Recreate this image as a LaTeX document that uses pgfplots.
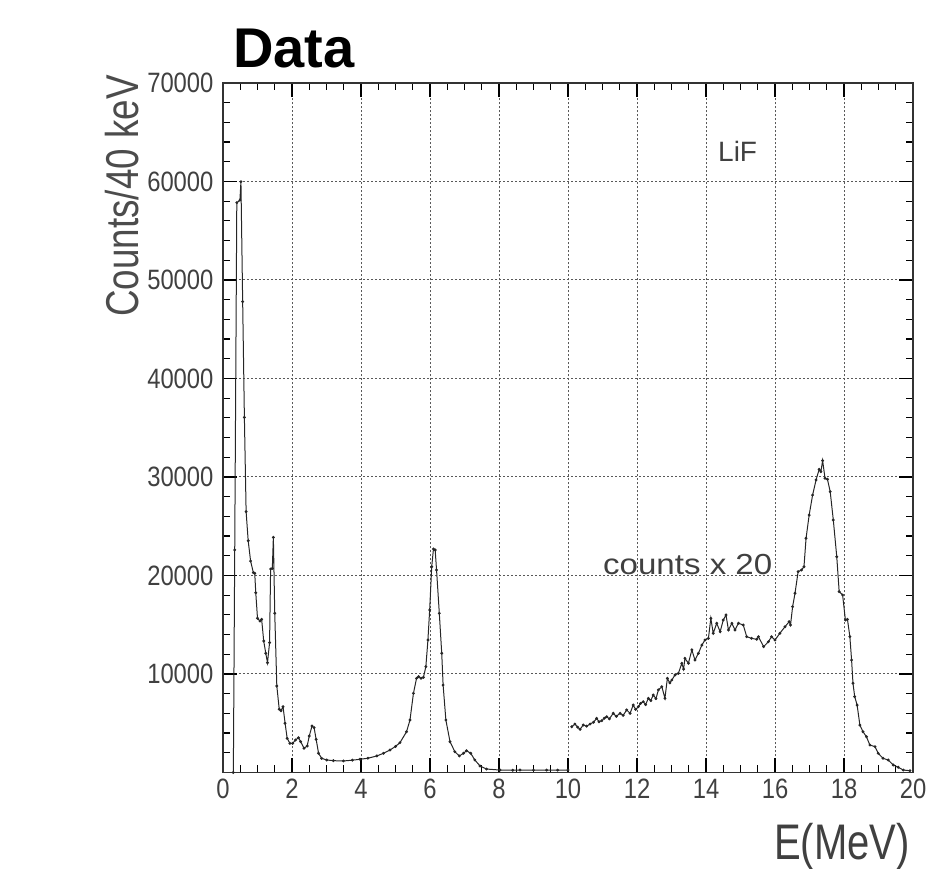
\documentclass[border=0pt]{standalone}
\usepackage{fontspec}
\setmainfont{Liberation Sans}
\newfontfamily\condensedfont[FakeStretch=0.8]{Liberation Sans}
\newfontfamily\tickfont[FakeStretch=0.85]{Liberation Sans}
\newfontfamily\widefont[FakeStretch=1.14]{Liberation Sans}
\usepackage{pgfplots}
\pgfplotsset{compat=1.18}
\begin{document}
\begin{tikzpicture}[x=1pt,y=1pt]
\useasboundingbox (-223,-96.5) rectangle (711,772.5);
\begin{axis}[at={(0,0)}, anchor=south west, scale only axis,
  width=690pt, height=689.5pt,
  xmin=0, xmax=20, ymin=0, ymax=70000,
  xtick={0,2,...,20}, minor x tick num=3,
  ytick={0,10000,20000,30000,40000,50000,60000,70000},
  yticklabels={{},10000,20000,30000,40000,50000,60000,70000},
  minor y tick num=4,
  scaled y ticks=false,
  /pgf/number format/assume math mode=true,
  tick label style={font=\tickfont\fontsize{28}{32}\selectfont, text=black!75},
  yticklabel style={xshift=-6pt},
  xticklabel style={yshift=-3pt},
  major tick length=14pt, minor tick length=7pt,
  every tick/.style={black, line width=1.2pt},
  grid=major,
  major grid style={black!65, line width=1pt, dash pattern=on 2pt off 2pt},
  axis line style={black!80, line width=1.3pt},
  clip=true,
]
\addplot[black!85, line width=1pt, mark=*, mark size=0.9pt] coordinates {
(0.30,0) (0.34,22600) (0.40,57850) (0.49,58100) (0.52,59980) (0.57,47800) (0.62,36060) (0.67,26480) (0.73,23530) (0.80,21470) (0.88,20290) (0.92,20220) (0.95,18250) (1.00,15650) (1.07,15380) (1.12,15550) (1.18,13350) (1.24,12100) (1.29,11150) (1.35,13180) (1.38,20660) (1.43,20730) (1.46,23880) (1.50,16160) (1.56,8780) (1.63,6420) (1.68,6270) (1.74,6680) (1.80,5000) (1.86,3470) (1.94,2960) (2.02,2960) (2.10,3300) (2.19,3530) (2.25,3130) (2.35,2460) (2.44,2690) (2.50,3700) (2.58,4720) (2.64,4550) (2.70,3370) (2.77,1950) (2.86,1440) (3.01,1270) (3.20,1200) (3.49,1170) (3.75,1250) (3.97,1340) (4.20,1450) (4.46,1680) (4.65,1950) (4.84,2280) (5.00,2650) (5.13,3030) (5.32,4140) (5.42,5330) (5.52,8040) (5.61,9560) (5.67,9730) (5.74,9560) (5.81,9660) (5.88,10740) (5.94,13450) (5.99,16500) (6.05,20890) (6.10,22690) (6.15,22590) (6.19,20560) (6.27,16160) (6.34,12100) (6.38,8880) (6.46,5330) (6.58,3130) (6.72,2110) (6.85,1680) (6.97,1950) (7.06,2210) (7.18,1950) (7.30,1270) (7.45,660) (7.64,350) (8.03,250) (8.40,230) (8.61,250) (9.00,240) (9.38,250) (9.70,240) (10.0,250)
};
\addplot[black!85, line width=1pt, mark=*, mark size=0.9pt] coordinates {
(10.11,4650) (10.20,4920) (10.28,4600) (10.35,4380) (10.44,4820) (10.54,4700) (10.64,4920) (10.74,5100) (10.83,5500) (10.90,5150) (10.98,5260) (11.05,5500) (11.12,5660) (11.20,5450) (11.31,6010) (11.40,5700) (11.51,6010) (11.60,5800) (11.70,6350) (11.80,6010) (11.89,6850) (11.96,6400) (12.04,6680) (12.10,7000) (12.18,7190) (12.25,6900) (12.33,7530) (12.40,7300) (12.47,7870) (12.55,7500) (12.62,8380) (12.72,8710) (12.81,7530) (12.88,9560) (12.95,9100) (13.01,9390) (13.10,9900) (13.20,10070) (13.30,11090) (13.35,10500) (13.39,11590) (13.49,11090) (13.59,12440) (13.68,11420) (13.78,12100) (13.88,12940) (13.97,13450) (14.07,13620) (14.14,15650) (14.21,14130) (14.31,15150) (14.41,14290) (14.50,15480) (14.58,15990) (14.65,14470) (14.75,15150) (14.84,14470) (14.94,15150) (15.08,14970) (15.18,13790) (15.32,13620) (15.47,13520) (15.52,13790) (15.67,12770) (15.81,13280) (15.90,13790) (16.00,13450) (16.14,14130) (16.29,14800) (16.41,15310) (16.45,14970) (16.51,16830) (16.58,18190) (16.67,20390) (16.77,20560) (16.84,20890) (16.90,23780) (16.99,26140) (17.09,28170) (17.19,29700) (17.28,30780) (17.33,30540) (17.38,31660) (17.45,29870) (17.52,29770) (17.60,28510) (17.69,25630) (17.79,21910) (17.86,18360) (17.96,18020) (18.04,15480) (18.10,15550) (18.17,13790) (18.22,11420) (18.26,9060) (18.31,7700) (18.38,6850) (18.46,4820) (18.55,4140) (18.65,3630) (18.75,2790) (18.90,2620) (18.99,1950) (19.13,1440) (19.28,1270) (19.43,760) (19.57,530) (19.72,250) (19.91,180)
};
\end{axis}
\node[anchor=base west, inner sep=0pt, font=\fontsize{56}{64}\selectfont\bfseries] at (10,704.5) {Data};
\node[rotate=90, anchor=base east, inner sep=0pt, font=\condensedfont\fontsize{46}{54}\selectfont, text=black!70] at (-84,697.5) {Counts/40 keV};
\node[anchor=base east, inner sep=0pt, font=\condensedfont\fontsize{50}{56}\selectfont, text=black!75] at (687,-87.5) {E(MeV)};
\node[anchor=base west, inner sep=0pt, font=\fontsize{28}{32}\selectfont, text=black!75] at (495,610.5) {LiF};
\node[anchor=base west, inner sep=0pt, font=\widefont\fontsize{29}{33}\selectfont, text=black!75] at (380,197.5) {counts x 20};
\end{tikzpicture}
\end{document}
